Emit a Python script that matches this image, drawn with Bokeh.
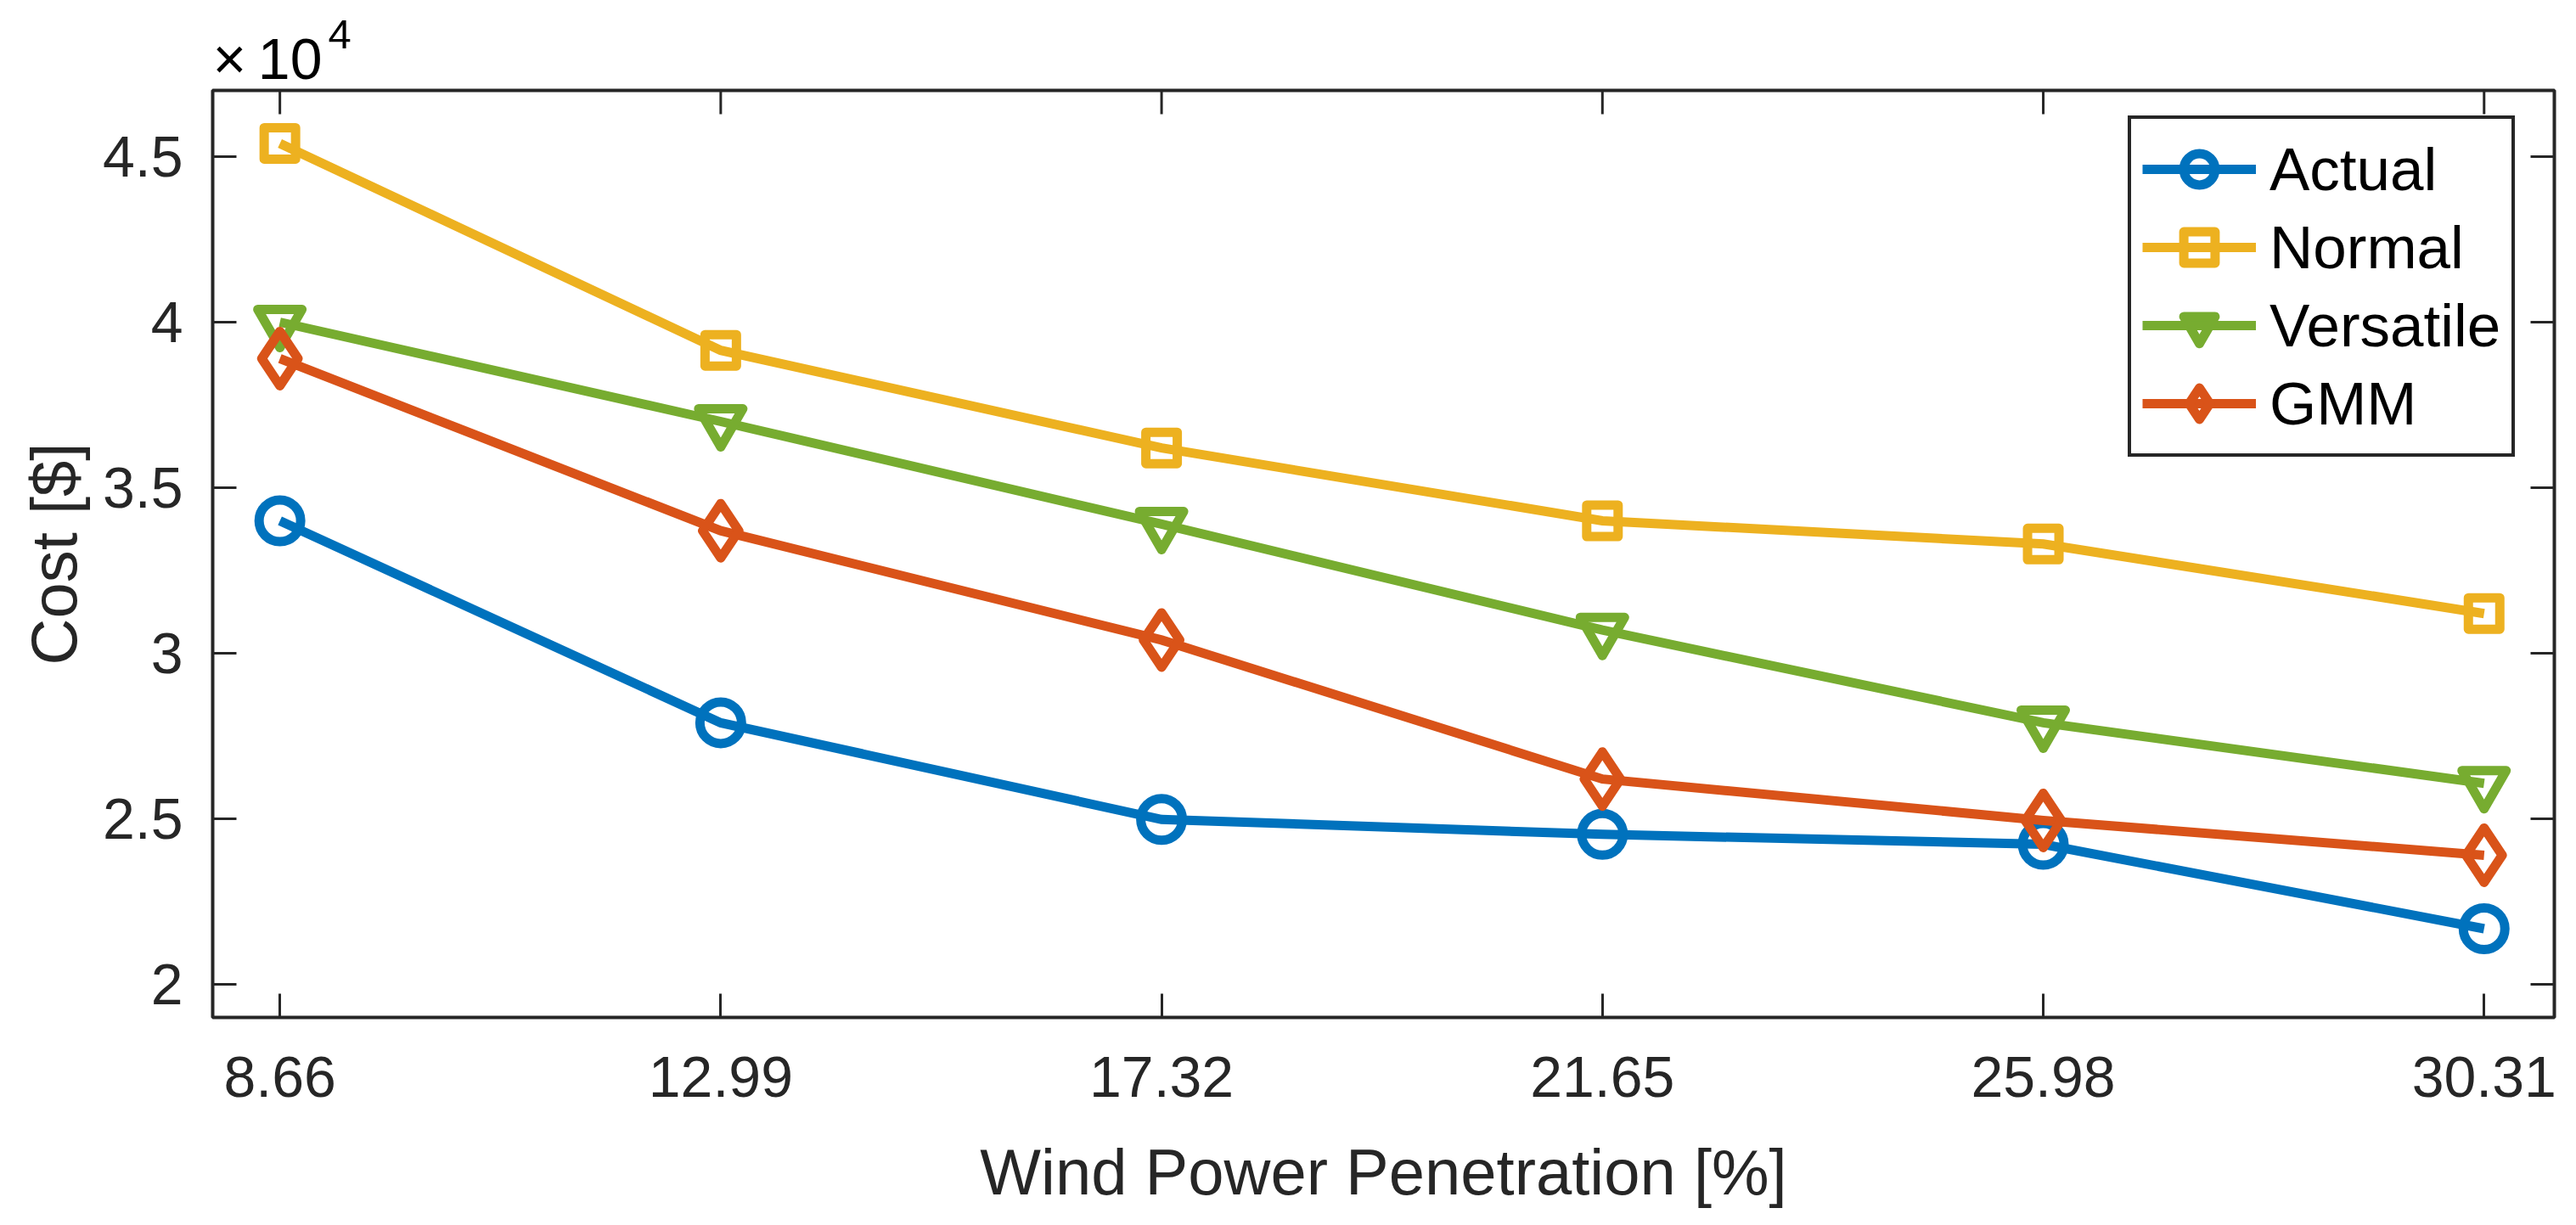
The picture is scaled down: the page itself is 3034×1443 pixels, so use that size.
from bokeh.plotting import figure
from bokeh.models import FixedTicker, Range1d, Legend, LegendItem, Title
from bokeh.embed import file_html
from bokeh.resources import INLINE

# ---- data ----
penetration = [8.66, 12.99, 17.32, 21.65, 25.98, 30.31]
penetration_labels = ["8.66", "12.99", "17.32", "21.65", "25.98", "30.31"]
cost_actual = [34000, 27900, 24980, 24530, 24230, 21680]
cost_normal = [45400, 39150, 36200, 34000, 33300, 31200]
cost_versatile = [40000, 37000, 33900, 30700, 27900, 26070]
cost_gmm = [38900, 33700, 30400, 26200, 24950, 23900]
y_tick_values = [20000, 25000, 30000, 35000, 40000, 45000]
y_tick_labels = ["2", "2.5", "3", "3.5", "4", "4.5"]
series_names = ["Actual", "Normal", "Versatile", "GMM"]

FONT = "Liberation Sans"
AX = "#262626"
X0, X1 = 8, 31
Y0, Y1 = 19000, 47000
W, H = 3018, 1427
BL, BR, BT, BB = 250, 10, 106, 229
FRAME_W = W - BL - BR
FRAME_H = H - BT - BB
TICK = 28

p = figure(width=W, height=H, title=None,
           x_range=Range1d(X0, X1), y_range=Range1d(Y0, Y1),
           output_backend="svg", toolbar_location=None,
           min_border_left=BL, min_border_right=BR,
           min_border_top=BT, min_border_bottom=BB)
p.xgrid.visible = False
p.ygrid.visible = False
p.outline_line_color = AX
p.outline_line_width = 4
p.outline_line_alpha = 1.0
p.background_fill_color = "white"
p.border_fill_color = "white"

def style_axis(ax, ticks, labels):
    ax.ticker = FixedTicker(ticks=ticks)
    ax.major_label_overrides = {t: l for t, l in zip(ticks, labels)}
    ax.axis_line_color = None
    ax.major_tick_in = TICK
    ax.major_tick_out = 0
    ax.major_tick_line_width = 3
    ax.major_tick_line_color = AX
    ax.minor_tick_line_color = None
    ax.major_label_text_font = FONT
    ax.major_label_text_color = AX
    ax.major_label_text_font_size = "68px"
    ax.axis_label_text_font = FONT
    ax.axis_label_text_font_size = "76px"
    ax.axis_label_text_font_style = "normal"
    ax.axis_label_text_color = AX

xb = p.xaxis[0]
yl = p.yaxis[0]
style_axis(xb, penetration, penetration_labels)
style_axis(yl, y_tick_values, y_tick_labels)
xb.major_label_standoff = 46
yl.major_label_standoff = 35
xb.axis_label = "Wind Power Penetration [%]"
yl.axis_label = "Cost [$]"
xb.axis_label_standoff = 43
yl.axis_label_standoff = 12

# inward ticks on the top and right edges of the box
dy = TICK * (Y1 - Y0) / FRAME_H
dx = TICK * (X1 - X0) / FRAME_W
p.segment(x0=penetration, y0=[Y1] * len(penetration), x1=penetration,
          y1=[Y1 - dy] * len(penetration), line_color=AX, line_width=3)
p.segment(x0=[X1] * len(y_tick_values), y0=y_tick_values,
          x1=[X1 - dx] * len(y_tick_values), y1=y_tick_values,
          line_color=AX, line_width=3)

colors = ["#0072BD", "#EDB120", "#77AC30", "#D95319"]
markers = ["circle", "square", "inverted_triangle", "diamond"]
sizes = [49, 37, 52, 64]
series = [cost_actual, cost_normal, cost_versatile, cost_gmm]

items = []
for name, ys, c, m, s in zip(series_names, series, colors, markers, sizes):
    lr = p.line(penetration, ys, line_color=c, line_width=11, line_cap="butt", line_join="miter")
    sr = p.scatter(penetration, ys, marker=m, size=s, fill_color=None,
                   line_color=c, line_width=11, line_join="round")
    items.append(LegendItem(label=name, renderers=[lr, sr]))

legend = Legend(items=items, location=(2256, 660),
                border_line_color=AX, border_line_width=4, border_line_alpha=1.0,
                background_fill_color="white", background_fill_alpha=1.0,
                label_text_font=FONT, label_text_font_size="71px",
                label_text_color="black",
                glyph_width=134, glyph_height=92, label_height=92,
                label_standoff=16, padding=13, spacing=0, margin=0)
p.add_layout(legend)

# x10^4 exponent note above the y axis ("x10" then the raised "4")
p.add_layout(Title(text="\u00d7\u200910", align="left", offset=0, standoff=0,
                   text_font=FONT, text_font_size="68px",
                   text_font_style="normal", text_color="black"), "above")
p.add_layout(Title(text="4", align="left", offset=136, standoff=-56,
                   text_font=FONT, text_font_size="49px",
                   text_font_style="normal", text_color="black"), "above")

open("out.html", "w").write(file_html(p, INLINE))
